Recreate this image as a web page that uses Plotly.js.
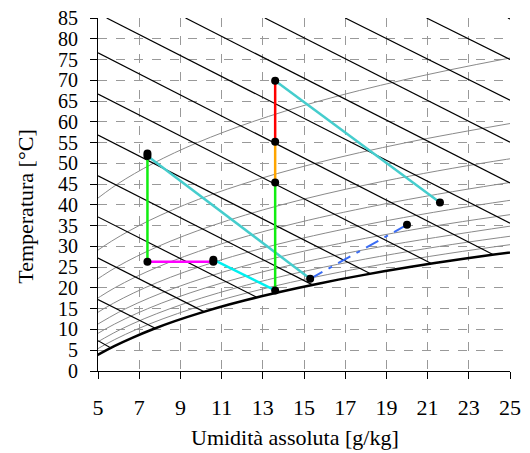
<!DOCTYPE html>
<html>
<head>
<meta charset="utf-8">
<script src="https://cdn.plot.ly/plotly-3.0.1.min.js"></script>
<style>html,body{margin:0;padding:0;background:#fff}#chart{width:530px;height:453px}</style>
</head>
<body>
<div id="chart"></div>
<script>
// ---- axis ticks ----
const xTicks = [5, 7, 9, 11, 13, 15, 17, 19, 21, 23, 25];
const yTicks = [0, 5, 10, 15, 20, 25, 30, 35, 40, 45, 50, 55, 60, 65, 70, 75, 80, 85];

// ---- saturation curve (100% RH): temperature [°C] vs absolute humidity [g/kg] ----
const satT = [0, 2, 4, 6, 8, 10, 12, 14, 16, 18, 20, 22, 24, 26, 28, 30];
const satX = [3.77, 4.37, 5.03, 5.79, 6.66, 7.63, 8.73, 9.97, 11.36, 12.93, 14.70, 16.67, 18.88, 21.35, 24.14, 27.22];

// ---- relative humidity curves 10% ... 90% ----
const rh10T = [40, 45, 50, 55, 60, 65, 70, 75, 80];
const rh10X = [4.57, 5.94, 7.68, 9.83, 12.49, 15.75, 19.76, 24.62, 30.52];
const rh20T = [25, 30, 35, 40, 45, 50, 55, 60];
const rh20X = [3.92, 5.26, 6.99, 9.20, 12.01, 15.54, 19.97, 25.48];
const rh30T = [20, 25, 30, 35, 40, 45, 50, 55];
const rh30X = [4.34, 5.89, 7.92, 10.54, 13.90, 18.18, 23.61, 30.44];
const rh40T = [15, 20, 25, 30, 35, 40, 45, 50];
const rh40X = [4.22, 5.80, 7.88, 10.60, 14.13, 18.68, 24.48, 31.88];
const rh50T = [10, 15, 20, 25, 30, 35, 40, 45];
const rh50X = [3.79, 5.28, 7.26, 9.88, 13.31, 17.77, 23.52, 30.91];
const rh60T = [10, 15, 20, 25, 30, 35, 40];
const rh60X = [4.56, 6.34, 8.73, 11.89, 16.05, 21.45, 28.44];
const rh70T = [5, 10, 15, 20, 25, 30, 35];
const rh70X = [3.77, 5.32, 7.41, 10.21, 13.92, 18.80, 25.17];
const rh80T = [5, 10, 15, 20, 25, 30, 35];
const rh80X = [4.31, 6.09, 8.49, 11.70, 15.96, 21.58, 28.92];
const rh90T = [0, 5, 10, 15, 20, 25, 30, 35];
const rh90X = [3.40, 4.86, 6.86, 9.57, 13.20, 18.01, 24.38, 32.73];

// ---- constant enthalpy lines (kJ/kg): start and end points ----
const enthH  = [20, 30, 40, 50, 60, 70, 80, 90, 100, 110, 120, 130, 140, 150];
const enthX1 = [5, 5, 5, 5, 5, 5, 5, 5, 5.42, 9.25, 13.1, 17.0, 20.95, 24.9];
const enthT1 = [7.3, 17.2, 27.2, 37.1, 47.0, 56.8, 66.7, 76.6, 85, 85, 85, 85, 85, 85];
const enthX2 = [5.65, 7.78, 10.14, 12.69, 15.39, 18.23, 21.18, 24.15, 25, 25, 25, 25, 25, 25];
const enthT2 = [5.5, 10.3, 14.3, 17.8, 20.8, 23.4, 25.9, 28.1, 35.6, 45.3, 55.1, 65.2, 75.0, 84.75];

// ---- process segments ----
const heat1X = [7.4, 7.4],   heat1T = [26.3, 52.4];
const humid1X = [7.4, 15.3], humid1T = [51.8, 22.2];
const mixX = [7.4, 10.6],    mixT = [26.3, 26.3];
const cool1X = [10.6, 13.6], cool1T = [26.8, 19.4];
const heat2X = [13.6, 13.6], heat2T = [19.4, 45.4];
const heat3X = [13.6, 13.6], heat3T = [45.4, 55.2];
const heat4X = [13.6, 13.6], heat4T = [55.2, 69.9];
const humid2X = [13.6, 21.6], humid2T = [69.9, 40.6];
const dashX = [15.3, 20.0],  dashT = [22.2, 35.2];

// ---- state points ----
const ptX = [7.4, 7.4, 7.4, 10.6, 10.6, 13.6, 13.6, 13.6, 13.6, 21.6, 15.3, 20.0];
const ptT = [52.4, 51.8, 26.3, 26.3, 26.8, 19.4, 45.4, 55.2, 69.9, 40.6, 22.2, 35.2];

const traces = [];
const rhSets = [[rh10X, rh10T], [rh20X, rh20T], [rh30X, rh30T], [rh40X, rh40T], [rh50X, rh50T],
                [rh60X, rh60T], [rh70X, rh70T], [rh80X, rh80T], [rh90X, rh90T]];
rhSets.forEach(s => traces.push({x: s[0], y: s[1], mode: 'lines',
  line: {color: '#8a8a8a', width: 1, shape: 'spline', smoothing: 1}}));
enthH.forEach((h, i) => traces.push({x: [enthX1[i], enthX2[i]], y: [enthT1[i], enthT2[i]], mode: 'lines',
  line: {color: '#000', width: 1.2}}));
traces.push({x: satX, y: satT, mode: 'lines', line: {color: '#000', width: 2.5, shape: 'spline', smoothing: 0.6}});

function seg(x, y, color, width, dash) {
  traces.push({x: x, y: y, mode: 'lines', line: {color: color, width: width, dash: dash || 'solid'}});
}
seg(heat1X, heat1T, '#11ee11', 2.5);
seg(humid1X, humid1T, '#45cdcd', 2.5);
seg(mixX, mixT, '#ff00ff', 2.5);
seg(cool1X, cool1T, '#00f0f0', 2.5);
seg(heat2X, heat2T, '#11ee11', 2.5);
seg(heat3X, heat3T, '#ffa500', 2.5);
seg(heat4X, heat4T, '#ff0000', 2.5);
seg(humid2X, humid2T, '#45cdcd', 2.5);
seg(dashX, dashT, '#3a6cf4', 2, '14px,7px,4px,7px');
traces.push({x: ptX, y: ptT, mode: 'markers', marker: {color: '#000', size: 8}});

const fontFam = 'Times New Roman, Liberation Serif, Times, serif';
const axisCommon = {
  showline: true, linecolor: '#000', linewidth: 1,
  ticks: 'outside', ticklen: 7, tickwidth: 1, tickcolor: '#000',
  showgrid: true, gridcolor: '#999999', gridwidth: 1, griddash: 'dash',
  zeroline: false, mirror: false
};
const layout = {
  width: 530, height: 453,
  margin: {l: 98, r: 20, t: 18, b: 82},
  paper_bgcolor: '#fff', plot_bgcolor: '#fff',
  showlegend: false,
  font: {family: fontFam},
  xaxis: Object.assign({}, axisCommon, {range: [5, 25], tickmode: 'array', tickvals: xTicks,
    ticktext: xTicks.map(String), ticklabelstandoff: 10,
    tickfont: {family: fontFam, size: 22, color: '#000'}}),
  yaxis: Object.assign({}, axisCommon, {range: [0, 85], tickmode: 'array', tickvals: yTicks,
    ticktext: yTicks.map(String), ticklabelstandoff: 8,
    tickfont: {family: fontFam, size: 20, color: '#000'}}),
  annotations: [
    {text: 'Umidità assoluta [g/kg]', xref: 'paper', yref: 'paper', x: 0.478, y: -0.187,
     xanchor: 'center', yanchor: 'middle', showarrow: false,
     font: {family: fontFam, size: 22, color: '#000'}},
    {text: 'Temperatura [°C]', xref: 'paper', yref: 'paper', x: -0.175, y: 0.465,
     xanchor: 'center', yanchor: 'middle', textangle: -90, showarrow: false,
     font: {family: fontFam, size: 22, color: '#000'}}
  ]
};
Plotly.newPlot('chart', traces, layout, {displayModeBar: false, staticPlot: true});
</script>
</body>
</html>
